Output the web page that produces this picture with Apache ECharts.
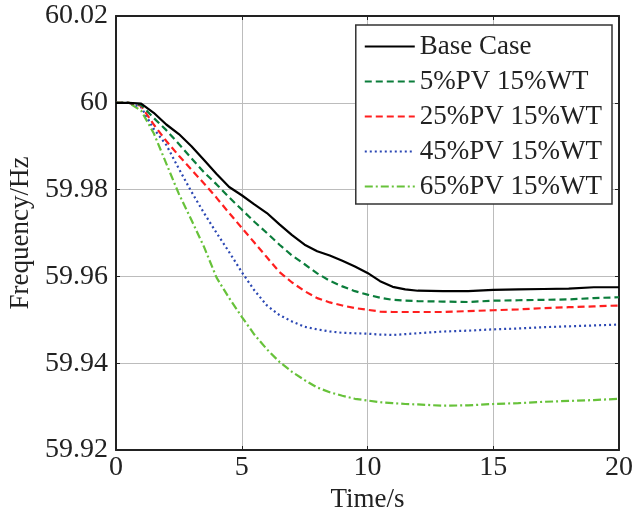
<!DOCTYPE html>
<html>
<head>
<meta charset="utf-8">
<script src="https://cdn.jsdelivr.net/npm/echarts@6/dist/echarts.min.js"></script>
<style>html,body{margin:0;padding:0;background:#fff;}#c{width:635px;height:518px;}</style>
</head>
<body>
<div id="c"></div>
<script>
const times = [0,0.5,1,1.5,2,2.5,3,3.5,4,4.5,5,5.5,6,6.5,7,7.5,8,8.5,9,9.5,10,10.5,11,11.5,12,13,14,15,16,17,18,19,20];
const seriesNames = ['Base Case','5%PV 15%WT','25%PV 15%WT','45%PV 15%WT','65%PV 15%WT'];
const baseCase = [60,60,59.9998,59.9977,59.9950,59.9928,59.9900,59.9868,59.9836,59.9806,59.9787,59.9766,59.9746,59.9720,59.9695,59.9673,59.9658,59.9648,59.9636,59.9623,59.9608,59.9589,59.9576,59.9570,59.9567,59.9566,59.9566,59.9569,59.9570,59.9571,59.9572,59.9575,59.9575];
const pv5 = [60,60,59.9995,59.9965,59.9937,59.9905,59.9872,59.9840,59.9812,59.9782,59.9754,59.9726,59.9700,59.9673,59.9648,59.9628,59.9607,59.9590,59.9577,59.9566,59.9558,59.9551,59.9546,59.9544,59.9543,59.9542,59.9541,59.9544,59.9545,59.9546,59.9547,59.9550,59.9552];
const pv25 = [60,60,59.9993,59.9950,59.9912,59.9878,59.9846,59.9814,59.9781,59.9746,59.9712,59.9678,59.9644,59.9610,59.9586,59.9566,59.9550,59.9540,59.9533,59.9527,59.9523,59.9519,59.9518,59.9518,59.9518,59.9518,59.9520,59.9522,59.9524,59.9527,59.9529,59.9531,59.9533];
const pv45 = [60,60,59.9990,59.9940,59.9903,59.9848,59.9795,59.9746,59.9700,59.9656,59.9610,59.9568,59.9533,59.9511,59.9496,59.9484,59.9478,59.9473,59.9470,59.9469,59.9468,59.9466,59.9465,59.9467,59.9469,59.9473,59.9475,59.9478,59.9480,59.9483,59.9485,59.9487,59.9489];
const pv65 = [60,60,59.9982,59.9930,59.9860,59.9790,59.9730,59.9668,59.9597,59.9550,59.9507,59.9466,59.9432,59.9403,59.9380,59.9361,59.9344,59.9333,59.9325,59.9318,59.9314,59.9310,59.9308,59.9306,59.9305,59.9302,59.9303,59.9306,59.9308,59.9311,59.9313,59.9315,59.9318];
const xTicks = [0,5,10,15,20];
const yTicks = [59.92,59.94,59.96,59.98,60,60.02];

const font = '"Liberation Serif","Times New Roman",serif';
const colors = ['#000000','#0b7d3b','#ff1f1f','#2b47b3','#67c23a'];
const dashes = ['solid',[7,4],[7,4],[2,3],[8,3,2,3]];
const allData = [baseCase,pv5,pv25,pv45,pv65];

const chart = echarts.init(document.getElementById('c'), null, {renderer:'canvas'});
chart.setOption({
  animation:false,
  backgroundColor:'#fff',
  grid:{left:116,right:16,top:16,bottom:68,containLabel:false,outerBoundsMode:'none'},
  legend:{
    orient:'vertical', right:23, top:25,
    backgroundColor:'#fff', borderColor:'#333', borderWidth:1.5,
    padding:[8,10,4,8], itemGap:8, itemWidth:50, itemHeight:14,
    itemStyle:{color:'transparent',borderColor:'transparent',borderWidth:0,opacity:0},
    textStyle:{fontFamily:font,fontSize:27,color:'#222',lineHeight:26},
    data:seriesNames
  },
  xAxis:[{
    type:'value', min:xTicks[0], max:xTicks[xTicks.length-1], interval:5,
    name:'Time/s', nameLocation:'middle', nameGap:35,
    nameTextStyle:{fontFamily:font,fontSize:27,color:'#222'},
    axisLine:{show:true,onZero:false,lineStyle:{color:'#222',width:2}},
    axisTick:{show:true,inside:true,length:4,lineStyle:{color:'#222'}},
    axisLabel:{fontFamily:font,fontSize:28,color:'#222',margin:4},
    splitLine:{show:true,lineStyle:{color:'#bcbcbc',width:1}}
  },{
    type:'value', position:'top', min:xTicks[0], max:xTicks[xTicks.length-1], interval:5,
    axisLine:{show:true,onZero:false,lineStyle:{color:'#222',width:2}},
    axisTick:{show:true,inside:true,length:4,lineStyle:{color:'#222'}},
    axisLabel:{show:false}, splitLine:{show:false}
  }],
  yAxis:[{
    type:'value', min:yTicks[0], max:yTicks[yTicks.length-1], interval:0.02,
    name:'Frequency/Hz', nameLocation:'middle', nameGap:78, nameRotate:90,
    nameTextStyle:{fontFamily:font,fontSize:27,color:'#222'},
    axisLine:{show:true,onZero:false,lineStyle:{color:'#222',width:2}},
    axisTick:{show:true,inside:true,length:4,lineStyle:{color:'#222'}},
    axisLabel:{fontFamily:font,fontSize:28,color:'#222',margin:8,
      formatter:function(v){return String(parseFloat(v.toFixed(2)));}},
    splitLine:{show:true,lineStyle:{color:'#bcbcbc',width:1}}
  },{
    type:'value', position:'right', min:yTicks[0], max:yTicks[yTicks.length-1], interval:0.02,
    axisLine:{show:true,onZero:false,lineStyle:{color:'#222',width:2}},
    axisTick:{show:true,inside:true,length:4,lineStyle:{color:'#222'}},
    axisLabel:{show:false}, splitLine:{show:false}
  }],
  series: seriesNames.map(function(n,i){
    return {
      name:n, type:'line', showSymbol:false, symbol:'none',
      data: times.map(function(t,k){return [t, allData[i][k]];}),
      lineStyle:{color:colors[i], width:2.2, type:dashes[i]},
      itemStyle:{color:colors[i]},
      z: 10-i
    };
  })
});
</script>
</body>
</html>
